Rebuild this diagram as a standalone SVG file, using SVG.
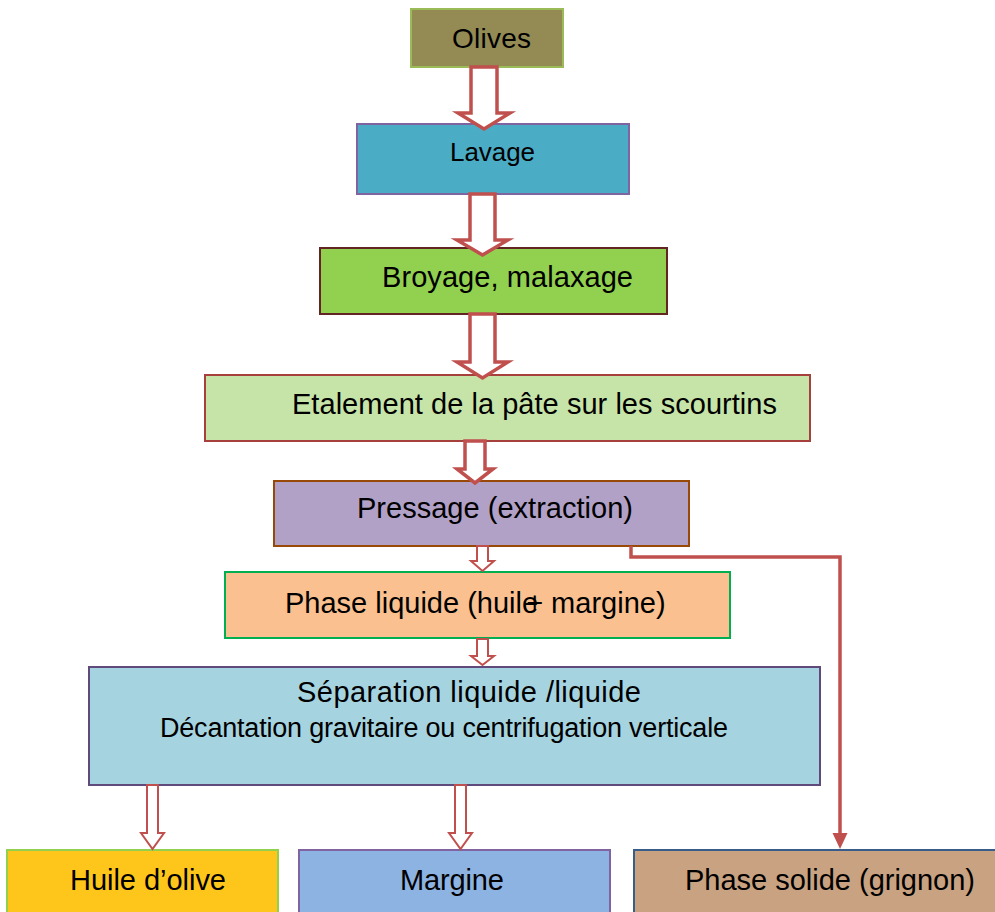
<svg xmlns="http://www.w3.org/2000/svg" width="995" height="912" viewBox="0 0 995 912">
<style>
text{font-family:"Liberation Sans",Arial,sans-serif;fill:#000;}
.box{stroke-width:2;}
.big{fill:#fff;stroke:#c0504d;stroke-width:3.5;stroke-linejoin:miter;}
.small{fill:#fff;stroke:#c0504d;stroke-width:2;}
.link{fill:none;stroke:#c0504d;stroke-width:3.5;}
</style>
<rect width="995" height="912" fill="#fff"/>

<g id="olives"><rect class="box" x="411" y="9" width="152" height="58" fill="#948a54" stroke="#9bbb59"/><text x="452" y="48" font-size="28" textLength="79">Olives</text></g>
<g id="lavage"><rect class="box" x="357" y="124" width="272" height="70" fill="#4bacc6" stroke="#8064a2"/><text x="450" y="161" font-size="26" textLength="85">Lavage</text></g>
<g id="broyage"><rect class="box" x="320" y="248" width="347" height="66" fill="#92d050" stroke="#632523"/><text x="382" y="287" font-size="29" textLength="251">Broyage, malaxage</text></g>
<g id="etalement"><rect class="box" x="205" y="375" width="605" height="66" fill="#c6e4a8" stroke="#a5403d"/><text x="292" y="414" font-size="29" textLength="485">Etalement de la pâte sur les scourtins</text></g>
<g id="pressage"><rect class="box" x="274" y="481" width="415" height="65" fill="#b2a1c7" stroke="#984807"/><text x="357" y="518" font-size="29" textLength="276">Pressage (extraction)</text></g>
<g id="phase-liquide"><rect class="box" x="225" y="572" width="505" height="66" fill="#fac090" stroke="#00b050"/><text x="285" y="613" font-size="29">Phase liquide (huile<tspan dx="-12">+</tspan> margine)</text></g>
<g id="separation"><rect class="box" x="89" y="667" width="731" height="118" fill="#a5d4e0" stroke="#604a7b"/><text x="297" y="702" font-size="29" textLength="344">Séparation liquide /liquide</text><text x="160" y="737" font-size="27" textLength="568">Décantation gravitaire ou centrifugation verticale</text></g>
<g id="huile"><rect class="box" x="7" y="850" width="271" height="70" fill="#fec61b" stroke="#92d050"/><text x="70" y="890" font-size="29" textLength="156">Huile d’olive</text></g>
<g id="margine"><rect class="box" x="299" y="850" width="311" height="70" fill="#8db3e2" stroke="#8064a2"/><text x="400" y="890" font-size="29" textLength="104">Margine</text></g>
<g id="phase-solide"><rect class="box" x="634" y="850" width="380" height="70" fill="#c9a281" stroke="#385d8a"/><text x="685" y="890" font-size="29" textLength="290">Phase solide (grignon)</text></g>

<g id="connectors">
<path class="big" d="M471,67 L497,67 L497,113 L510,113 L484,129 L458,113 L471,113 Z"/>
<path class="big" d="M470,194 L495,194 L495,240 L508,240 L482.5,255 L457,240 L470,240 Z"/>
<path class="big" d="M470,314 L495,314 L495,362 L508,362 L482.5,378 L457,362 L470,362 Z"/>
<path class="big" d="M465,441 L485,441 L485,469 L493,469 L475,483 L457,469 L465,469 Z"/>
<path class="small" d="M477,546 L488,546 L488,561 L494,561 L482.5,571 L471,561 L477,561 Z"/>
<path class="small" d="M477,639 L488,639 L488,656 L494,656 L482.5,665 L471,656 L477,656 Z"/>
<path class="small" d="M147,785 L158,785 L158,833 L164,833 L152.5,849 L141,833 L147,833 Z"/>
<path class="small" d="M455,785 L466,785 L466,833 L472,833 L460.5,849 L449,833 L455,833 Z"/>
<path class="link" d="M631,546 L631,557 L840,557 L840,834"/>
<path d="M832.5,833 L847.5,833 L840,849 Z" fill="#c0504d"/>
</g>
</svg>
